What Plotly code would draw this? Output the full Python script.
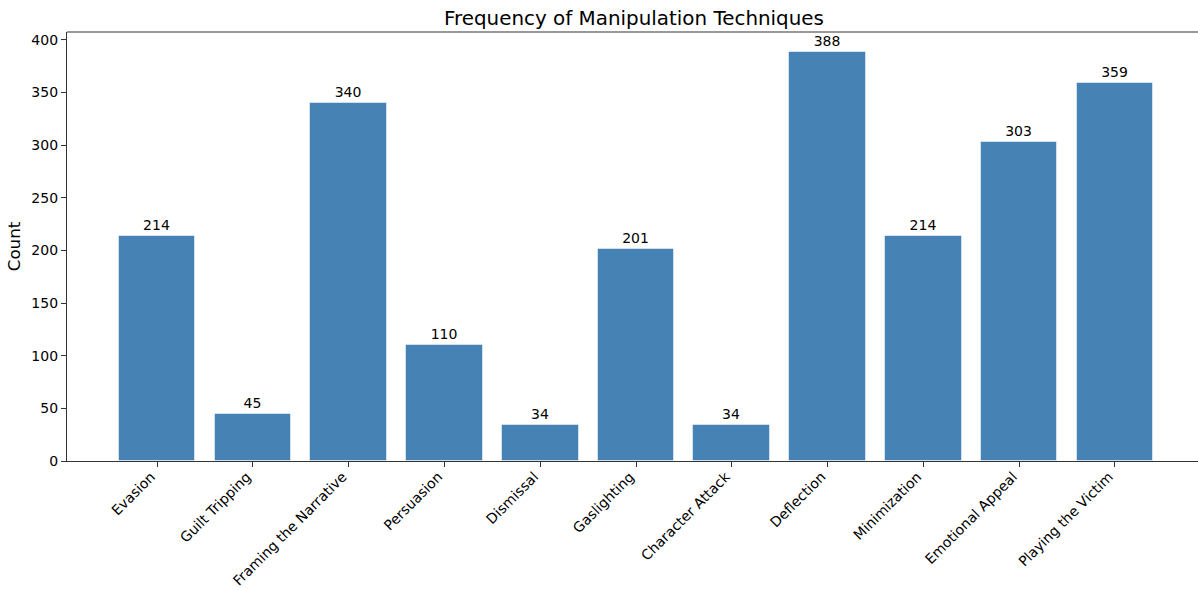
import plotly.graph_objects as go

categories = ["Evasion", "Guilt Tripping", "Framing the Narrative", "Persuasion", "Dismissal",
              "Gaslighting", "Character Attack", "Deflection", "Minimization",
              "Emotional Appeal", "Playing the Victim"]
counts = [214, 45, 340, 110, 34, 201, 34, 388, 214, 303, 359]
y_ticks = [0, 50, 100, 150, 200, 250, 300, 350, 400]

x_idx = list(range(len(categories)))
font = "DejaVu Sans"
W, H = 1206, 594

fig = go.Figure(go.Bar(
    x=x_idx, y=counts, width=0.8,
    marker=dict(color="#4682b4", line=dict(color="rgba(255,255,255,0.5)", width=1)),
    text=[str(c) for c in counts], textposition="outside", cliponaxis=False,
    textfont=dict(family=font, size=14, color="black"),
))

fig.update_layout(
    width=W, height=H,
    paper_bgcolor="white", plot_bgcolor="white",
    margin=dict(l=67, r=1, t=32, b=133),
    showlegend=False,
    title=dict(text="Frequency of Manipulation Techniques", x=634 / W, xanchor="center",
               y=1 - 18 / H, yanchor="middle", font=dict(family=font, size=19.9, color="black")),
    font=dict(family=font, color="black"),
    bargap=0,
)
fig.update_xaxes(
    range=[-0.94, 10.94], tickvals=x_idx, ticktext=categories, tickangle=-45,
    showgrid=False, zeroline=False, automargin=False,
    showline=True, linecolor="#333333", linewidth=1.2, mirror=False,
    ticks="outside", ticklen=5, tickcolor="#333333",
    ticklabelshift=-6, ticklabelstandoff=-4,
    tickfont=dict(family=font, size=14, color="black"),
)
fig.update_yaxes(
    range=[0, 407.4], tickvals=y_ticks,
    showgrid=False, zeroline=False, automargin=False,
    showline=True, linecolor="#333333", linewidth=1.2,
    ticks="outside", ticklen=5, tickcolor="#333333",
    tickfont=dict(family=font, size=14, color="black"),
    title=dict(text="Count", font=dict(family=font, size=16.7, color="black"), standoff=6),
)
# top spine
fig.add_shape(type="line", xref="paper", yref="paper", x0=0, x1=1, y0=1, y1=1,
              line=dict(color="#333333", width=1.2))

fig.write_html("out.html", config={"displayModeBar": False},
               post_script="document.body.style.margin='0px';document.body.style.overflow='hidden';")
